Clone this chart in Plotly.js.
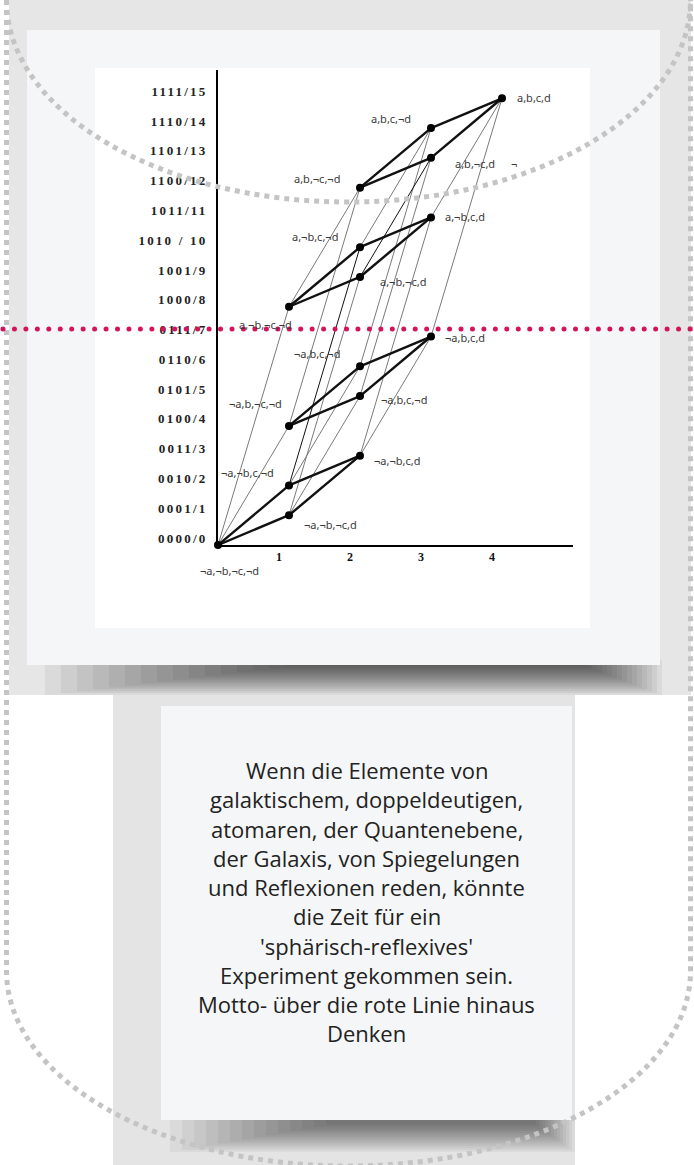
<!DOCTYPE html>
<html>
<head>
<meta charset="utf-8">
<script src="https://cdn.plot.ly/plotly-3.0.1.min.js"></script>
<style>
  html, body { margin: 0; padding: 0; background: #ffffff; }
  #chart { width: 694px; height: 1165px; }
  .yaxislayer-above text { letter-spacing: 2.2px; }
</style>
</head>
<body>
<div id="chart"></div>
<script>
// ---------- data ----------
const nodeValue = [0, 1, 2, 3, 4, 5, 6, 7, 8, 9, 10, 11, 12, 13, 14, 15];
const nodeLevel = [0, 1, 1, 2, 1, 2, 2, 3, 1, 2, 2, 3, 2, 3, 3, 4];
const nodeLabels = ['¬a,¬b,¬c,¬d', '¬a,¬b,¬c,d', '¬a,¬b,c,¬d', '¬a,¬b,c,d',
                    '¬a,b,¬c,¬d', '¬a,b,c,¬d', '¬a,b,c,¬d', '¬a,b,c,d',
                    'a,¬b,¬c,¬d', 'a,¬b,¬c,d', 'a,¬b,c,¬d', 'a,¬b,c,d',
                    'a,b,¬c,¬d', 'a,b,¬c,d', 'a,b,c,¬d', 'a,b,c,d'];
const yTickVals = [0, 1, 2, 3, 4, 5, 6, 7, 8, 9, 10, 11, 12, 13, 14, 15];
const yTickText = ['0000/0', '0001/1', '0010/2', '0011/3', '0100/4', '0101/5', '0110/6', '0111/7',
                   '1000/8', '1001/9', '1010 / 10', '1011/11', '1100/12', '1101/13', '1110/14', '1111/15'];
const xTickVals = [1, 2, 3, 4];
const xTickText = ['1', '2', '3', '4'];
const thickEdges = [[0,1],[0,2],[1,3],[2,3],[4,5],[4,6],[5,7],[6,7],
                    [8,9],[8,10],[9,11],[10,11],[12,13],[12,14],[13,15],[14,15]];
const thinEdges = [[0,4],[0,8],[1,5],[1,9],[2,6],[3,7],[3,11],[4,12],
                   [5,13],[6,14],[7,15],[8,12],[10,14],[11,15]];
const darkThinEdges = [[2,10],[9,13]];
const strayMark = '¬';
const noteLines = ['Wenn die Elemente von', 'galaktischem, doppeldeutigen,', 'atomaren, der Quantenebene,',
                   'der Galaxis, von Spiegelungen', 'und Reflexionen reden, könnte', 'die Zeit für ein',
                   "'sphärisch-reflexives'", 'Experiment gekommen sein.', 'Motto- über die rote Linie hinaus',
                   'Denken'];

// ---------- label placement (pixel offsets from node) ----------
const labelOffsets = [[11,25],[41,9],[-42,-13],[37,5],[-34,-22],[44,3],[-43,-13],[34,1],
                      [-24,18],[43,5],[-45,-11],[34,-1],[-43,-9],[44,6],[-40,-10],[32,-1]];

const W = 694, H = 1165;
const px = x => x / W;
const py = y => 1 - y / H;

function edgeXY(edges) {
  const xs = [], ys = [];
  edges.forEach(([a, b]) => {
    xs.push(nodeLevel[a], nodeLevel[b], null);
    ys.push(nodeValue[a], nodeValue[b], null);
  });
  return {xs, ys};
}
const thin = edgeXY(thinEdges), dark = edgeXY(darkThinEdges), thick = edgeXY(thickEdges);

const traces = [
  {x: thin.xs, y: thin.ys, mode: 'lines', line: {color: '#7a7a7a', width: 1}, hoverinfo: 'skip', cliponaxis: false},
  {x: dark.xs, y: dark.ys, mode: 'lines', line: {color: '#111111', width: 1}, hoverinfo: 'skip', cliponaxis: false},
  {x: thick.xs, y: thick.ys, mode: 'lines', line: {color: '#111111', width: 2.4}, hoverinfo: 'skip', cliponaxis: false},
  {x: nodeLevel, y: nodeValue, mode: 'markers', marker: {color: '#000000', size: 8}, cliponaxis: false, hoverinfo: 'skip'}
];

// ---------- shapes ----------
const shapes = [];
function rect(x0, y0, x1, y1, fill, layer) {
  shapes.push({type: 'rect', xref: 'paper', yref: 'paper', x0: px(x0), x1: px(x1), y0: py(y1), y1: py(y0),
               fillcolor: fill, line: {width: 0}, layer: layer || 'below'});
}
rect(9, 0, 691, 695, '#e6e6e6');
// top card soft shadow
for (let i = 0; i < 16; i++) {
  rect(45 + 16 * i, 660, 662 - 5 * i, 695 - 1.9 * i, 'rgba(0,0,0,0.05)');
}
rect(27, 30, 660, 665, '#f5f6f7');
rect(95, 68, 590, 628, '#ffffff');
// lower column and text card
rect(113, 695, 575, 1165, '#e4e4e4');
for (let i = 0; i < 14; i++) {
  rect(170 + 12 * i, 1115, 575 - 3 * i, 1152 - 2.1 * i, 'rgba(0,0,0,0.045)');
}
rect(161, 706, 572, 1120, '#f5f6f7');

// dotted border paths
const k = 0.5523;
function P(x, y) { return px(x).toFixed(5) + ',' + py(y).toFixed(5); }
const L = 6.5, R = 690.5, CX = 348.5, RX = 342;
const topArc = 'M ' + P(L, 0) + ' C ' + P(L, 202 * k) + ' ' + P(CX - RX * k, 202) + ' ' + P(CX, 202) +
               ' C ' + P(CX + RX * k, 202) + ' ' + P(R, 202 * k) + ' ' + P(R, 0);
const CY = 971, RY = 195;
const outline = 'M ' + P(L, 0) + ' L ' + P(L, CY) + ' C ' + P(L, CY + RY * k) + ' ' + P(CX - RX * k, CY + RY) + ' ' + P(CX, CY + RY) +
                ' C ' + P(CX + RX * k, CY + RY) + ' ' + P(R, CY + RY * k) + ' ' + P(R, CY) + ' L ' + P(R, 0);
[topArc, outline].forEach(p => shapes.push({type: 'path', xref: 'paper', yref: 'paper', path: p, layer: 'above',
  line: {color: '#c4c4c4', width: 5, dash: '5px,5px'}, fillcolor: 'rgba(0,0,0,0)'}));

// crimson dotted rule
for (let x = 3; x < W; x += 11.45) {
  shapes.push({type: 'circle', xref: 'paper', yref: 'paper', layer: 'above',
    x0: px(x - 2.5), x1: px(x + 2.5), y0: py(331.5), y1: py(326.5),
    fillcolor: '#d4145a', line: {width: 0}});
}

// ---------- annotations ----------
const annotations = nodeLabels.map((t, i) => ({
  x: nodeLevel[i], y: nodeValue[i], xref: 'x', yref: 'y', text: t, showarrow: false,
  xshift: labelOffsets[i][0], yshift: -labelOffsets[i][1], xanchor: 'center', yanchor: 'middle',
  font: {family: 'Noto Sans, Open Sans, sans-serif', size: 11, color: '#3a3a3a'}
}));
annotations.push({x: nodeLevel[13], y: nodeValue[13], xref: 'x', yref: 'y', text: strayMark, showarrow: false,
  xshift: 83, yshift: -6, font: {family: 'Noto Sans, sans-serif', size: 11, color: '#3a3a3a'}});
noteLines.forEach((t, i) => annotations.push({
  xref: 'paper', yref: 'paper', x: px(367), y: py(770 + i * 29.25), text: t, showarrow: false,
  xanchor: 'center', yanchor: 'middle',
  font: {family: 'Open Sans, sans-serif', size: 22, color: '#222222'}
}));

const layout = {
  width: W, height: H, margin: {l: 0, r: 0, t: 0, b: 0},
  paper_bgcolor: '#ffffff', plot_bgcolor: 'rgba(0,0,0,0)',
  showlegend: false,
  xaxis: {domain: [px(218), px(573)], range: [0, 5], showline: true, linecolor: '#000000', linewidth: 2,
          showgrid: false, zeroline: false, ticks: '', tickvals: xTickVals, ticktext: xTickText,
          ticklabelshift: -10, ticklabelstandoff: 0,
          tickfont: {family: 'Liberation Serif, serif', size: 12, color: '#111111', weight: 'bold'}, fixedrange: true},
  yaxis: {domain: [py(545), py(70)], range: [0, 15.95], showline: true, linecolor: '#000000', linewidth: 2,
          showgrid: false, zeroline: false, ticks: '', tickvals: yTickVals, ticktext: yTickText,
          ticklabelshift: -7, ticklabelstandoff: 6,
          tickfont: {family: 'Liberation Serif, serif', size: 13, color: '#222222', weight: 'bold'}, fixedrange: true},
  shapes: shapes,
  annotations: annotations
};

Plotly.newPlot('chart', traces, layout, {staticPlot: true, displayModeBar: false});
</script>
</body>
</html>
